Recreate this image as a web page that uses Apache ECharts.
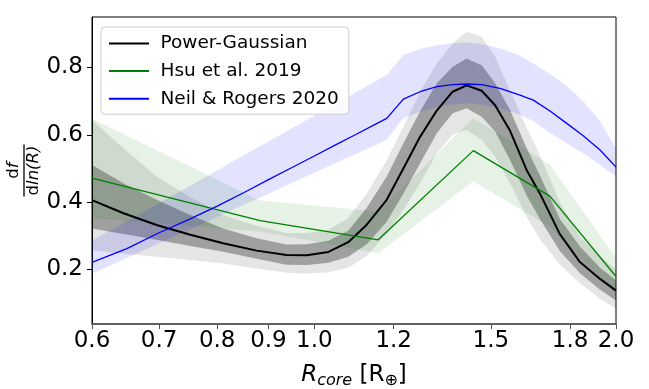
<!DOCTYPE html>
<html>
<head>
<meta charset="utf-8">
<script src="https://cdn.jsdelivr.net/npm/echarts@6/dist/echarts.min.js"></script>
<style>html,body{margin:0;padding:0;background:#fff}#c{width:649px;height:389px}</style>
</head>
<body>
<div id="c"></div>
<script>
// ---- tick labels ----
const xTicks = [0.6, 0.7, 0.8, 0.9, 1.0, 1.2, 1.5, 1.8, 2.0];
const yTicks = [0.2, 0.4, 0.6, 0.8];

// ---- Power-Gaussian (median, 1-sigma and 2-sigma bands) ----
const pgR   = [0.600,0.645,0.696,0.752,0.811,0.876,0.938,0.983,1.033,1.081,1.128,1.181,1.227,1.275,1.325,1.374,1.419,1.469,1.515,1.568,1.629,1.679,1.758,1.841,1.928,2.000];
const pgMid = [0.406,0.367,0.332,0.303,0.278,0.256,0.243,0.242,0.252,0.281,0.333,0.407,0.500,0.594,0.672,0.728,0.747,0.731,0.688,0.612,0.495,0.426,0.305,0.222,0.172,0.137];
const pgLo1 = [0.322,0.305,0.288,0.270,0.253,0.232,0.214,0.213,0.220,0.238,0.275,0.342,0.426,0.515,0.605,0.664,0.679,0.654,0.610,0.525,0.420,0.350,0.255,0.189,0.140,0.108];
const pgHi1 = [0.510,0.456,0.407,0.362,0.322,0.293,0.274,0.275,0.285,0.315,0.383,0.476,0.575,0.669,0.753,0.802,0.827,0.807,0.753,0.674,0.560,0.480,0.350,0.268,0.205,0.168];
const pgLo2 = [0.256,0.247,0.238,0.228,0.218,0.203,0.190,0.188,0.192,0.205,0.240,0.306,0.377,0.456,0.545,0.600,0.614,0.585,0.535,0.456,0.355,0.290,0.215,0.159,0.113,0.083];
const pgHi2 = [0.644,0.560,0.476,0.415,0.362,0.330,0.308,0.308,0.318,0.352,0.425,0.525,0.624,0.728,0.812,0.872,0.906,0.891,0.832,0.733,0.620,0.540,0.400,0.297,0.240,0.200];

// ---- Hsu et al. 2019 ----
const hsuR   = [0.600,0.883,1.158,1.441,1.718,2.000];
const hsuMid = [0.471,0.345,0.288,0.553,0.418,0.179];
const hsuLo  = [0.352,0.313,0.248,0.462,0.327,0.128];
const hsuHi  = [0.648,0.405,0.372,0.649,0.512,0.233];

// ---- Neil & Rogers 2020 ----
const nrR   = [0.60,0.65,0.70,0.75,0.80,0.85,0.90,0.95,1.00,1.05,1.10,1.15,1.181,1.227,1.275,1.325,1.375,1.419,1.469,1.532,1.604,1.654,1.72,1.786,1.855,1.928,2.00];
const nrMid = [0.221,0.262,0.309,0.349,0.388,0.428,0.467,0.503,0.537,0.570,0.601,0.631,0.649,0.706,0.728,0.743,0.749,0.751,0.749,0.738,0.718,0.703,0.670,0.634,0.597,0.555,0.504];
const nrLo  = [0.187,0.234,0.278,0.318,0.356,0.392,0.425,0.457,0.487,0.516,0.543,0.569,0.585,0.650,0.668,0.683,0.690,0.694,0.690,0.678,0.660,0.640,0.605,0.575,0.545,0.510,0.476];
const nrHi  = [0.285,0.343,0.397,0.447,0.494,0.539,0.580,0.620,0.657,0.692,0.726,0.759,0.778,0.837,0.855,0.866,0.872,0.874,0.870,0.857,0.835,0.812,0.780,0.745,0.700,0.640,0.560];

const FONT = 'DejaVu Sans';

function band(rs, lo, hi, fill, z) {
  return {
    type: 'custom', z: z, silent: true, clip: true,
    data: rs.map((r, i) => [r, lo[i], hi[i]]),
    encode: { x: 0, y: [1, 2] },
    renderItem: function (params, api) {
      if (params.dataIndex !== 0) return null;
      const pts = [];
      for (let i = 0; i < rs.length; i++) pts.push(api.coord([rs[i], hi[i]]));
      for (let i = rs.length - 1; i >= 0; i--) pts.push(api.coord([rs[i], lo[i]]));
      return { type: 'polygon', shape: { points: pts }, style: { fill: fill } };
    }
  };
}
function line(name, rs, vs, color, width, z) {
  return {
    type: 'line', name: name, z: z, silent: true,
    data: rs.map((r, i) => [r, vs[i]]),
    symbol: 'none', showSymbol: false, smooth: false,
    lineStyle: { color: color, width: width },
    itemStyle: { color: color }
  };
}

const chart = echarts.init(document.getElementById('c'), null, { renderer: 'canvas' });
chart.setOption({
  animation: false,
  backgroundColor: '#fff',
  grid: { left: 92, right: 33, top: 17, bottom: 65, show: true, borderColor: '#000', borderWidth: 1, backgroundColor: 'transparent', containLabel: false, outerBoundsMode: 'none' },
  legend: {
    data: ['Power-Gaussian', 'Hsu et al. 2019', 'Neil & Rogers 2020'],
    orient: 'vertical', left: 101, top: 27,
    itemWidth: 40, itemHeight: 20, itemGap: 8.6,
    padding: [7, 10, 6, 7],
    backgroundColor: 'rgba(255,255,255,0.8)', borderColor: '#cccccc', borderWidth: 1, borderRadius: 4,
    selectedMode: false,
    itemStyle: { opacity: 0, borderWidth: 0 },
    textStyle: { fontFamily: FONT, fontSize: 18.5, color: '#000', padding: [0, 0, 0, 6.5] }
  },
  xAxis: {
    type: 'log', logBase: 10, min: 0.6, max: 2.0,
    name: '{i|R}{s|core}{t| [R}{s|\u2295}{t|]}',
    nameLocation: 'middle', nameGap: 38, nameMoveOverlap: false,
    nameTextStyle: {
      color: '#000',
      rich: {
        i: { fontFamily: FONT, fontStyle: 'italic', fontSize: 23, color: '#000' },
        s: { fontFamily: FONT, fontStyle: 'italic', fontSize: 16, color: '#000', padding: [11, 0, 0, 0] },
        t: { fontFamily: FONT, fontSize: 23, color: '#000' }
      }
    },
    axisLine: { show: true, lineStyle: { color: '#555', width: 1.5 } },
    axisTick: { show: true, length: 5, inside: false, lineStyle: { color: '#555', width: 1 }, customValues: xTicks },
    minorTick: { show: false },
    axisLabel: { show: true, customValues: xTicks, margin: 6, fontFamily: FONT, fontSize: 23, color: '#000', hideOverlap: false, formatter: v => Number(v).toFixed(1) },
    splitLine: { show: false }
  },
  yAxis: {
    type: 'value', min: 0.038, max: 0.95,
    name: '{n|d}{ni|f}\n{bar| }\n{n|d}{ni|ln(R)}',
    nameLocation: 'middle', nameRotate: 90, nameGap: 50, nameMoveOverlap: false,
    nameTextStyle: {
      color: '#000', align: 'center',
      rich: {
        n: { fontFamily: FONT, fontSize: 16.5, color: '#000', lineHeight: 16, align: 'center' },
        ni: { fontFamily: FONT, fontStyle: 'italic', fontSize: 16.5, color: '#000', lineHeight: 16, align: 'center' },
        bar: { width: 52, height: 1.3, fontSize: 1, lineHeight: 4, backgroundColor: '#000', align: 'center' }
      }
    },
    axisLine: { show: true, lineStyle: { color: '#000', width: 1 } },
    axisTick: { show: true, length: 5, inside: false, lineStyle: { color: '#000', width: 1 }, customValues: yTicks },
    axisLabel: { show: true, customValues: yTicks, margin: 9, fontFamily: FONT, fontSize: 23, color: '#000', formatter: v => Number(v).toFixed(1) },
    splitLine: { show: false }
  },
  series: [
    band(pgR, pgLo2, pgHi2, 'rgba(0,0,0,0.1)', 1),
    band(pgR, pgLo1, pgHi1, 'rgba(0,0,0,0.3)', 1),
    line('Power-Gaussian', pgR, pgMid, '#000000', 2, 3),
    band(hsuR, hsuLo, hsuHi, 'rgba(0,128,0,0.1)', 1),
    line('Hsu et al. 2019', hsuR, hsuMid, '#008000', 1.3, 4),
    band(nrR, nrLo, nrHi, 'rgba(0,0,255,0.11)', 1),
    line('Neil & Rogers 2020', nrR, nrMid, '#0000ff', 1.3, 5)
  ]
});
</script>
</body>
</html>
